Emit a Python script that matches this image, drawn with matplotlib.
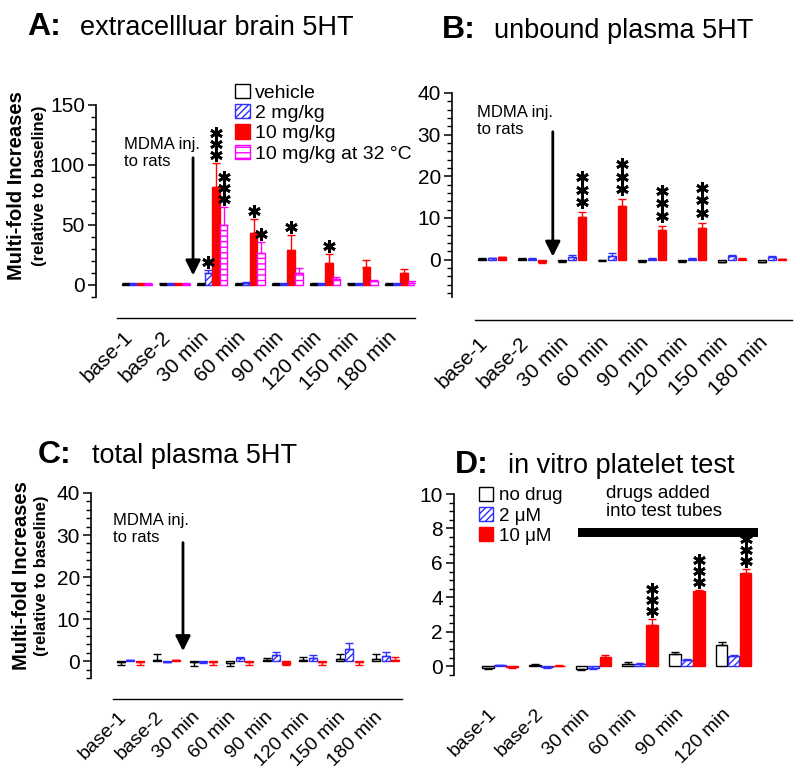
import matplotlib
matplotlib.use("Agg")
import matplotlib.pyplot as plt
from matplotlib.patches import Patch, Rectangle
from matplotlib.ticker import MultipleLocator
from matplotlib.transforms import offset_copy
import numpy as np

plt.rcParams['font.family'] = ['Liberation Sans', 'DejaVu Sans']
plt.rcParams['hatch.linewidth'] = 1.0

# ---------------- data ----------------
time_cats = ['base-1', 'base-2', '30 min', '60 min', '90 min', '120 min', '150 min', '180 min']
vitro_cats = ['base-1', 'base-2', '30 min', '60 min', '90 min', '120 min']

# A: extracellular brain 5HT
a_vehicle = [1, 1, 1, 1, 1, 1, 1, 1]
a_vehicle_err = [0.3, 0.3, 0.3, 0.3, 0.3, 0.3, 0.3, 0.3]
a_2mg = [1, 1, 10, 2, 1, 1, 1, 1]
a_2mg_err = [0.3, 0.3, 2.5, 0.5, 0.3, 0.3, 0.3, 0.3]
a_10mg = [1, 1, 82, 43, 29, 18, 15, 10]
a_10mg_err = [0.3, 0.3, 20, 12, 13, 8, 6, 3]
a_32c = [1, 1, 50, 27, 10, 5, 3, 2]
a_32c_err = [0.3, 0.3, 15, 9, 4, 2, 1.5, 1]
a_stars = {(1, 2): 1, (2, 2): 3, (3, 2): 3, (2, 3): 1, (3, 3): 1, (2, 4): 1, (2, 5): 1}

# B: unbound plasma 5HT
b_vehicle = [0.2, 0.2, -0.3, -0.2, -0.4, -0.3, -0.5, -0.5]
b_vehicle_err = [0.2, 0.2, 0.2, 0.2, 0.2, 0.2, 0.2, 0.2]
b_2mg = [0.3, 0.2, 0.6, 0.9, 0.2, 0.2, 0.8, 0.5]
b_2mg_err = [0.1, 0.1, 0.4, 0.6, 0.1, 0.1, 0.3, 0.3]
b_10mg = [0.5, -0.6, 10.2, 12.8, 7.0, 7.5, 0.2, 0.1]
b_10mg_err = [0.1, 0.2, 1.2, 1.7, 1.1, 1.3, 0.1, 0.1]
b_stars = {(2, 2): 3, (2, 3): 3, (2, 4): 3, (2, 5): 3}

# C: total plasma 5HT
c_vehicle = [-0.3, 0.4, -0.3, -0.4, 0.4, 0.4, 0.5, 0.5]
c_vehicle_err = [0.7, 1.2, 0.8, 0.8, 0.4, 0.6, 1.2, 1.2]
c_2mg = [0.2, -0.2, -0.2, 0.8, 1.5, 0.8, 3.0, 1.2]
c_2mg_err = [0.2, 0.1, 0.3, 0.3, 0.7, 0.7, 1.3, 1.0]
c_10mg = [-0.3, 0.2, -0.3, -0.3, -0.6, -0.3, -0.3, 0.3]
c_10mg_err = [0.5, 0.1, 0.6, 0.6, 0.2, 0.6, 0.5, 0.8]

# D: in vitro platelet test
d_nodrug = [-0.1, 0.1, -0.15, 0.15, 0.7, 1.25]
d_nodrug_err = [0.05, 0.05, 0.05, 0.12, 0.15, 0.15]
d_2um = [0.08, -0.05, -0.1, 0.15, 0.35, 0.6]
d_2um_err = [0.02, 0.02, 0.05, 0.06, 0.05, 0.05]
d_10um = [-0.05, 0.05, 0.55, 2.4, 4.35, 5.4]
d_10um_err = [0.02, 0.02, 0.13, 0.35, 0.1, 0.25]
d_stars = {(2, 3): 3, (2, 4): 3, (2, 5): 3}

BLUE = '#2e2eff'
RED = '#ff0000'
MAG = '#ff00ff'

W, H = 800, 771
fig = plt.figure(figsize=(W / 100, H / 100), dpi=100)


def add_ax(left, top, right, bottom):
    return fig.add_axes([left / W, 1 - bottom / H, (right - left) / W, (bottom - top) / H])


def style_for(kind):
    if kind == 'white':
        return dict(facecolor='white', edgecolor='black'), 'black'
    if kind == 'blue':
        return dict(facecolor='white', edgecolor=BLUE, hatch='/////'), BLUE
    if kind == 'red':
        return dict(facecolor=RED, edgecolor=RED), RED
    if kind == 'mag':
        return dict(facecolor='white', edgecolor=MAG, hatch='---'), MAG


def draw_bars(ax, series, width, step, stars=None, star_base=9, star_step=11.5, star_ms=9):
    n = len(series)
    offs = (np.arange(n) - (n - 1) / 2) * step
    tops = {}
    for si, (vals, errs, kind) in enumerate(series):
        vals = np.asarray(vals, float)
        errs = np.asarray(errs, float)
        x = np.arange(len(vals)) + offs[si]
        kw, ec = style_for(kind)
        ax.bar(x, vals, width=width, linewidth=1.0, zorder=2, **kw)
        up = np.where(vals >= 0, errs, 0)
        dn = np.where(vals < 0, errs, 0)
        ax.errorbar(x, vals, yerr=[dn, up], fmt='none', ecolor=ec, elinewidth=1.0,
                    capsize=3, capthick=1.0, zorder=3)
        for i in range(len(vals)):
            tops[(si, i)] = (x[i], vals[i] + up[i])
    if stars:
        for key, nstar in stars.items():
            x, y = tops[key]
            for k in range(nstar):
                tr = offset_copy(ax.transData, fig=fig, x=0,
                                 y=(star_base + k * star_step) * 0.72, units='points')
                ax.plot([x], [y], marker=(6, 2, 0), ms=star_ms, color='black', mew=2.0,
                        transform=tr, clip_on=False, zorder=5)


def style_axes(ax, cats, ylim, major, minor, xlim, ticksize=15, xpad=23, xsize=15):
    ax.set_xlim(*xlim)
    ax.set_ylim(*ylim)
    for s in ('top', 'right', 'bottom'):
        ax.spines[s].set_visible(False)
    ax.spines['left'].set_linewidth(1.2)
    ax.yaxis.set_major_locator(MultipleLocator(major))
    ax.yaxis.set_minor_locator(MultipleLocator(minor))
    ax.tick_params(axis='y', which='major', length=6, width=1.1, labelsize=ticksize, pad=2)
    ax.tick_params(axis='y', which='minor', length=3.5, width=1.0)
    ax.set_xticks(np.arange(len(cats)))
    ax.set_xticklabels(cats, rotation=45, ha='right', fontsize=xsize)
    ax.tick_params(axis='x', length=0, pad=xpad)
    ax.set_facecolor('none')


def xline(ax, x0, y):
    ax.plot([x0, 1.0], [y, y], transform=ax.transAxes, color='black', lw=1.0, clip_on=False)


def mdma(ax, tx, ty, ax_x, ay0, ay1):
    ax.text(tx, ty, 'MDMA inj.\nto rats', fontsize=12, va='top', ha='left', linespacing=1.15)
    ax.annotate('', xy=(ax_x, ay1), xytext=(ax_x, ay0),
                arrowprops=dict(arrowstyle='-|>,head_length=0.9,head_width=0.45', lw=2,
                                color='black', shrinkA=0, shrinkB=0))


def title(xl, xt, yb, letter, txt):
    fig.text(xl / W, 1 - yb / H, letter, fontsize=23, fontweight='bold', va='baseline')
    fig.text(xt / W, 1 - yb / H, txt, fontsize=19.5, va='baseline')


def ylabel(x1, x2, yc):
    fig.text(x1 / W, 1 - yc / H, 'Multi-fold Increases', rotation=90, fontsize=14.5,
             fontweight='bold', ha='center', va='center')
    fig.text(x2 / W, 1 - yc / H, '(relative to baseline)', rotation=90, fontsize=12,
             fontweight='bold', ha='center', va='center')


# ---------------- Panel A ----------------
axA = add_ax(96, 105, 415, 297)
draw_bars(axA, [(a_vehicle, a_vehicle_err, 'white'), (a_2mg, a_2mg_err, 'blue'),
                (a_10mg, a_10mg_err, 'red'), (a_32c, a_32c_err, 'mag')],
          width=0.2, step=0.2, stars=a_stars, star_base=8, star_step=11)
style_axes(axA, time_cats, (-10, 150), 50, 10, (-1.09, 7.39), xpad=22)
xline(axA, 0.066, -0.109)
mdma(axA, -0.35, 123, 1.49, 106, 8)
handles = [Patch(facecolor='white', edgecolor='black', label='vehicle'),
           Patch(facecolor='white', edgecolor=BLUE, hatch='/////', label='2 mg/kg'),
           Patch(facecolor=RED, edgecolor=RED, label='10 mg/kg'),
           Patch(facecolor='white', edgecolor=MAG, hatch='---', label='10 mg/kg at 32 °C')]
axA.legend(handles=handles, loc='upper left', bbox_to_anchor=(235 / W, 1 - 84 / H),
           bbox_transform=fig.transFigure, frameon=False, fontsize=14, handlelength=0.75,
           handleheight=0.75, handletextpad=0.3, labelspacing=0.12, borderpad=0,
           borderaxespad=0)
title(27, 80, 35, 'A:', 'extracellluar brain 5HT')
ylabel(17, 40, 186)

# ---------------- Panel B ----------------
axB = add_ax(452, 93, 792, 297)
draw_bars(axB, [(b_vehicle, b_vehicle_err, 'white'), (b_2mg, b_2mg_err, 'blue'),
                (b_10mg, b_10mg_err, 'red')],
          width=0.2, step=0.25, stars=b_stars, star_base=10, star_step=12.5)
style_axes(axB, time_cats, (-9, 40), 10, 2, (-1.0, 7.5), xpad=26)
xline(axB, 0.068, -0.113)
mdma(axB, -0.375, 37, 1.52, 30.7, 0.7)
title(442, 494, 38, 'B:', 'unbound plasma 5HT')

# ---------------- Panel C ----------------
axC = add_ax(91, 493, 402, 678)
draw_bars(axC, [(c_vehicle, c_vehicle_err, 'white'), (c_2mg, c_2mg_err, 'blue'),
                (c_10mg, c_10mg_err, 'red')],
          width=0.22, step=0.26)
style_axes(axC, time_cats, (-4, 40), 10, 2, (-1.07, 7.45), xpad=22, xsize=14)
xline(axC, 0.071, -0.114)
mdma(axC, -0.47, 35.3, 1.45, 28.2, 2.4)
title(38, 92, 463, 'C:', 'total plasma 5HT')
ylabel(22, 42, 576)

# ---------------- Panel D ----------------
axD = add_ax(454, 494, 770, 675)
draw_bars(axD, [(d_nodrug, d_nodrug_err, 'white'), (d_2um, d_2um_err, 'blue'),
                (d_10um, d_10um_err, 'red')],
          width=0.25, step=0.257, stars=d_stars, star_base=8, star_step=11)
style_axes(axD, vitro_cats, (-0.5, 10), 2, 0.5, (-0.985, 5.78), xpad=22, xsize=14)
axD.add_patch(Rectangle((1.67, 7.5), 3.86, 0.53, facecolor='black', edgecolor='none',
                        clip_on=False))
axD.text(2.27, 10.55, 'drugs added\ninto test tubes', fontsize=13.5, va='top', ha='left',
         linespacing=1.15)
handlesD = [Patch(facecolor='white', edgecolor='black', label='no drug'),
            Patch(facecolor='white', edgecolor=BLUE, hatch='/////', label='2 μM'),
            Patch(facecolor=RED, edgecolor=RED, label='10 μM')]
axD.legend(handles=handlesD, loc='upper left', bbox_to_anchor=(479 / W, 1 - 487 / H),
           bbox_transform=fig.transFigure, frameon=False, fontsize=13.5, handlelength=0.75,
           handleheight=0.75, handletextpad=0.3, labelspacing=0.15, borderpad=0,
           borderaxespad=0)
title(455, 508, 473, 'D:', 'in vitro platelet test')

fig.savefig('out.png', dpi=100)
